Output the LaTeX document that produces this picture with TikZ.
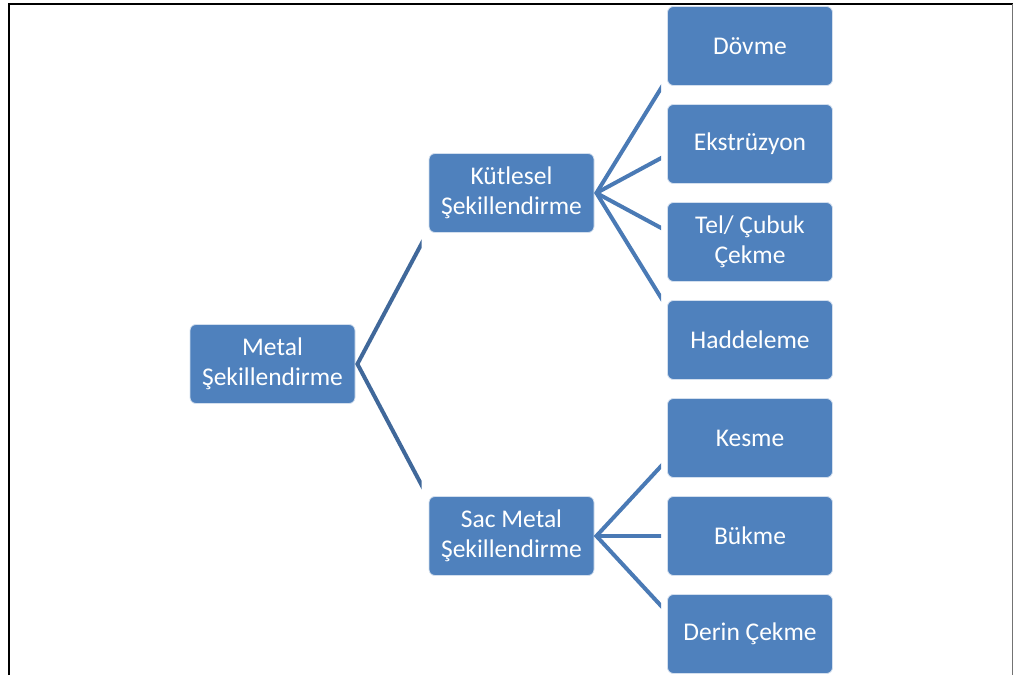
\documentclass[tikz,border=0pt]{standalone}
\usepackage{fontspec}
\setmainfont{Carlito}
\begin{document}
\begin{tikzpicture}[x=1pt,y=1pt,
  box/.style={rectangle, rounded corners=6pt, fill=boxblue, draw=white!75!boxblue, line width=0.8pt,
    minimum width=165pt, minimum height=79pt, inner sep=2pt, align=center, text=white,
    font=\fontsize{25.5}{29.5}\selectfont},
  linkA/.style={draw=linkdark, line width=4pt, line join=miter, line cap=butt},
  linkB/.style={draw=linklight, line width=4pt, line join=miter, line cap=butt}]
\definecolor{boxblue}{HTML}{4F81BD}
\definecolor{linkdark}{HTML}{40689A}
\definecolor{linklight}{HTML}{4A7AB5}
\useasboundingbox (0,0) rectangle (1014,675);
% frame
\draw[line width=2pt, black] (8.5,0) -- (8.5,671) -- (1012.5,671);
\draw[line width=1pt, black!55] (1012.5,671) -- (1012.5,0);
% nodes
\node[box] (M) at (272.5,311) {Metal\\Şekillendirme};
\node[box] (K) at (511.5,482) {Kütlesel\\Şekillendirme};
\node[box] (S) at (511.5,139) {Sac Metal\\Şekillendirme};
\node[box] (D1) at (750,629) {Dövme};
\node[box] (D2) at (750,531) {Ekstrüzyon};
\node[box] (D3) at (750,433) {Tel/ Çubuk\\Çekme};
\node[box] (D4) at (750,335) {Haddeleme};
\node[box] (D5) at (750,237) {Kesme};
\node[box] (D6) at (750,139) {Bükme};
\node[box] (D7) at (750,41) {Derin Çekme};
% hubs
\coordinate (hM) at ([xshift=2pt]M.east);
\coordinate (hK) at ([xshift=2pt]K.east);
\coordinate (hS) at ([xshift=2pt]S.east);
% level 1 links
\begin{scope}
\clip ([xshift=-10pt]hM |- 0,0) rectangle ([xshift=-7pt]K.west |- 0,675);
\draw[linkA] ([xshift=20pt]K.west) -- (hM) -- ([xshift=20pt]S.west);
\end{scope}
% level 2 links
\begin{scope}
\clip ([xshift=-10pt]hK |- 0,0) rectangle ([xshift=-6pt]D1.west |- 0,675);
\draw[linkB] ([xshift=20pt]D1.west) -- (hK) -- ([xshift=20pt]D4.west);
\draw[linkB] (hK) -- ([xshift=20pt]D2.west);
\draw[linkB] (hK) -- ([xshift=20pt]D3.west);
\draw[linkB] ([xshift=20pt]D5.west) -- (hS) -- ([xshift=20pt]D7.west);
\draw[linkB] (hS) -- ([xshift=20pt]D6.west);
\end{scope}
\end{tikzpicture}
\end{document}
